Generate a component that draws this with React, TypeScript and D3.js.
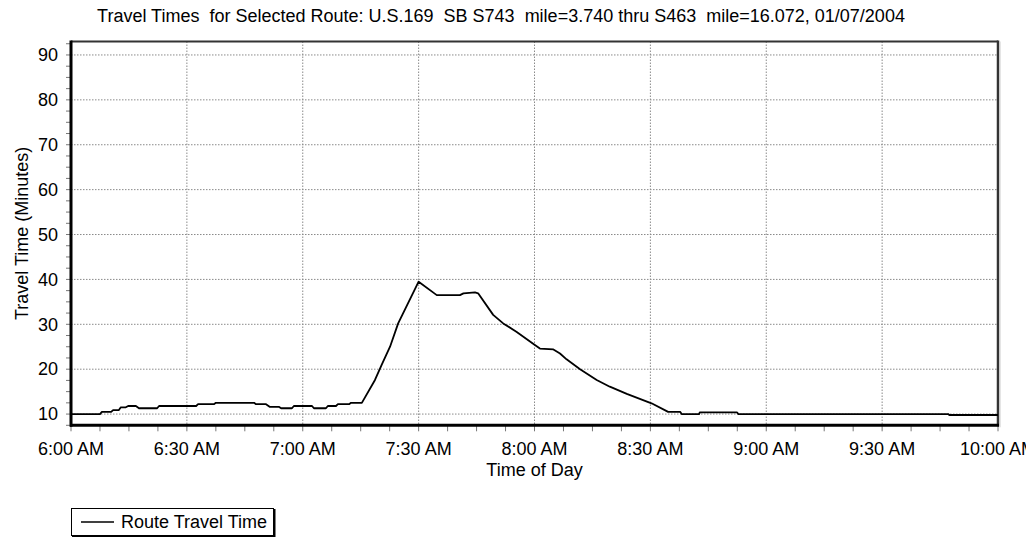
import React from 'react';
import * as d3 from 'd3';

// minutes after 6:00 AM and route travel time (minutes)
const times = [
  0, 7.5, 8, 10.4, 10.9, 12.4, 12.9, 14.2, 14.8, 16.8, 17.6, 22.3, 22.8, 32.4, 32.9, 37, 37.5,
  47.4, 47.9, 50.5, 51.5, 53.9, 54.4, 57.2, 57.7, 62.4, 62.9, 66, 66.5, 68.6, 69.1, 72, 72.5,
  75.3, 78.7, 80.4, 82.6, 84.7, 90, 94.7, 100.7, 101.6, 104.6, 105.4, 109.3, 111.9, 115.4,
  120.1, 121.4, 124.9, 126.6, 128.3, 131.8, 136.1, 139.5, 143.9, 150.3, 154.6, 157.7, 158.1,
  162.6, 162.8, 172.4, 172.8, 227.1, 227.4, 240,
];
const travel = [
  10.0, 10.0, 10.5, 10.5, 10.9, 10.9, 11.5, 11.5, 11.8, 11.8, 11.3, 11.3, 11.8, 11.8, 12.2, 12.2, 12.5,
  12.5, 12.2, 12.2, 11.6, 11.6, 11.3, 11.3, 11.8, 11.8, 11.3, 11.3, 11.8, 11.8, 12.2, 12.2, 12.5,
  12.5, 17.6, 20.9, 25.0, 30.2, 39.5, 36.5, 36.5, 36.9, 37.1, 36.9, 32.1, 30.2, 28.3,
  25.4, 24.6, 24.4, 23.5, 22.2, 20.0, 17.6, 16.1, 14.5, 12.4, 10.5, 10.5, 10.0,
  10.0, 10.4, 10.4, 10.0, 10.0, 9.8, 9.8,
];
const xTickMinutes = [0, 30, 60, 90, 120, 150, 180, 210, 240];
const xTickLabels = ['6:00 AM', '6:30 AM', '7:00 AM', '7:30 AM', '8:00 AM', '8:30 AM', '9:00 AM', '9:30 AM', '10:00 AM'];
const yTicks = [10, 20, 30, 40, 50, 60, 70, 80, 90];

const title = 'Travel Times  for Selected Route: U.S.169  SB S743  mile=3.740 thru S463  mile=16.072, 01/07/2004';
const seriesName = 'Route Travel Time';

const W = 1026;
const H = 538;
const left = 71;
const right = 998;
const font = '"Liberation Sans", Arial, sans-serif';

export default function App() {
  const x = d3.scaleLinear().domain([0, 240]).range([left, right]);
  const y = d3.scaleLinear().domain([7.5, 93]).range([425.3, 41.5]);
  const top = y(93);
  const bottom = y(7.5);

  const pts = times.map((t, i) => [t, travel[i]] as [number, number]);
  const line = d3.line<[number, number]>().x(d => x(d[0])).y(d => y(d[1]));

  const minorX = d3.range(0, 240.01, 7.5);
  const minorY = d3.range(7.5, 93, 2.5);

  return (
    <div style={{ position: 'absolute', left: 0, top: 0 }}>
      <svg width={W} height={H} style={{ display: 'block', background: '#fff' }} fontFamily={font}>
        <text x={501} y={22} textAnchor="middle" fontSize={18} fill="#000"
          xmlSpace="preserve" style={{ whiteSpace: 'pre' }}>{title}</text>

        {/* grid */}
        {xTickMinutes.slice(1, -1).map(m => (
          <line key={'gx' + m} x1={x(m)} x2={x(m)} y1={top} y2={bottom}
            stroke="#8a8a8a" strokeWidth={1} strokeDasharray="1.5 1.5" />
        ))}
        {yTicks.map(v => (
          <line key={'gy' + v} x1={left} x2={right} y1={y(v)} y2={y(v)}
            stroke="#8a8a8a" strokeWidth={1} strokeDasharray="1.5 1.5" />
        ))}

        {/* ticks */}
        {minorX.map(m => (
          <line key={'tx' + m} x1={x(m)} x2={x(m)} y1={bottom} y2={bottom + 6} stroke="#777" strokeWidth={1} />
        ))}
        {minorY.map(v => (
          <line key={'ty' + v} x1={left - 5} x2={left} y1={y(v)} y2={y(v)} stroke="#777" strokeWidth={1} />
        ))}

        {/* frame */}
        <line x1={left} x2={right} y1={top} y2={top} stroke="#333" strokeWidth={2} />
        <line x1={right} x2={right} y1={top - 1} y2={bottom + 1} stroke="#333" strokeWidth={2.5} />
        <line x1={right + 2} x2={right + 2} y1={top} y2={bottom + 2} stroke="#ccc" strokeWidth={1} />
        <line x1={left - 1} x2={right + 1} y1={bottom} y2={bottom} stroke="#000" strokeWidth={3} />
        <line x1={left} x2={left} y1={top - 1} y2={bottom + 1.5} stroke="#000" strokeWidth={3} />

        {/* data */}
        <path d={line(pts) || ''} fill="none" stroke="#000" strokeWidth={1.8} strokeLinejoin="round" />

        {/* tick labels */}
        {yTicks.map(v => (
          <text key={'ly' + v} x={58} y={y(v)} dy="0.35em" textAnchor="end" fontSize={18} fill="#000">{v}</text>
        ))}
        {xTickMinutes.map((m, i) => (
          <text key={'lx' + m} x={x(m)} y={455} textAnchor="middle" fontSize={18} fill="#000">{xTickLabels[i]}</text>
        ))}

        <text x={(left + right) / 2} y={476} textAnchor="middle" fontSize={18} fill="#000">Time of Day</text>
        <text transform={`translate(28, ${(top + bottom) / 2}) rotate(-90)`} textAnchor="middle" fontSize={18} fill="#000">
          Travel Time (Minutes)
        </text>

        {/* legend */}
        <rect x={71.5} y={508.5} width={202} height={27} fill="#fff" stroke="#000" strokeWidth={1} />
        <line x1={274.5} x2={274.5} y1={509} y2={537} stroke="#000" strokeWidth={2} />
        <line x1={72} x2={275} y1={536} y2={536} stroke="#000" strokeWidth={2} />
        <line x1={81} x2={114} y1={522} y2={522} stroke="#000" strokeWidth={1.5} />
        <text x={121} y={528} fontSize={18} fill="#000">{seriesName}</text>
      </svg>
    </div>
  );
}
